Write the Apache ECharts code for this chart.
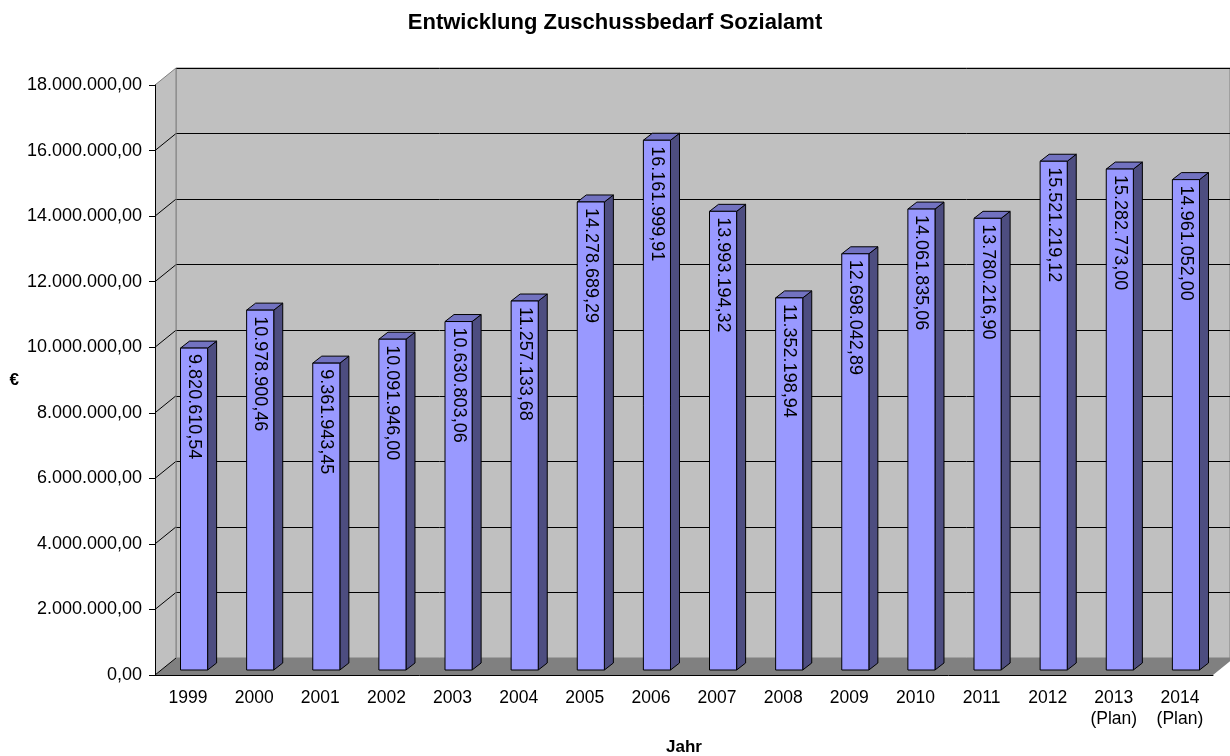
<!DOCTYPE html>
<html>
<head>
<meta charset="utf-8">
<script src="https://cdn.jsdelivr.net/npm/echarts@6/dist/echarts.min.js"></script>
<style>
  html, body { margin: 0; padding: 0; background: #fff; }
  #chart { width: 1230px; height: 756px; }
</style>
</head>
<body>
<div id="chart"></div>
<script>
// data
const years = ['1999', '2000', '2001', '2002', '2003', '2004', '2005', '2006',
  '2007', '2008', '2009', '2010', '2011', '2012', '2013\n(Plan)', '2014\n(Plan)']
const amounts = [9820610.54, 10978900.46, 9361943.45, 10091946.00, 10630803.06, 11257133.68,
  14278689.29, 16161999.91, 13993194.32, 11352198.94, 12698042.89, 14061835.06,
  13780216.90, 15521219.12, 15282773.00, 14961052.00]
const yTicks = [0, 2000000, 4000000, 6000000, 8000000, 10000000, 12000000, 14000000, 16000000, 18000000]

const FONT = '"Liberation Sans", Arial, sans-serif'
// 3D depth offset (back wall vs. front plane)
const DEPTH_X = 21
const DEPTH_Y = -17

// German number format: 1.234.567,89
const fmt = (v) => {
  const [i, d] = v.toFixed(2).split('.')
  return i.replace(/\B(?=(\d{3})+(?!\d))/g, '.') + ',' + d
}

const chart = echarts.init(document.getElementById('chart'))

// left wall + floor + diagonal tick lines
const renderFrame = (params, api) => {
  const band = api.size([1, 0])[0]
  const n = years.length
  const top = api.coord([0, yTicks[yTicks.length - 1]])
  const bot = api.coord([0, 0])
  const xl = top[0] - band / 2
  const xr = api.coord([n - 1, 0])[0] + band / 2
  const children = [
    {
      type: 'polygon',
      shape: { points: [[xl, top[1]], [xl + DEPTH_X, top[1] + DEPTH_Y], [xl + DEPTH_X, bot[1] + DEPTH_Y], [xl, bot[1]]] },
      style: { fill: '#c0c0c0' },
    },
    {
      type: 'polygon',
      shape: { points: [[xl, bot[1]], [xl + DEPTH_X, bot[1] + DEPTH_Y], [xr + DEPTH_X, bot[1] + DEPTH_Y], [xr, bot[1]]] },
      style: { fill: '#808080' },
    },
  ]
  yTicks.forEach((t, k) => {
    const y = api.coord([0, t])[1]
    children.push({
      type: 'line',
      shape: { x1: xl, y1: y, x2: xl + DEPTH_X, y2: y + DEPTH_Y },
      style: { stroke: k === yTicks.length - 1 ? '#808080' : '#000', lineWidth: 1 },
    })
  })
  children.push({
    type: 'line',
    shape: { x1: xl + DEPTH_X, y1: top[1] + DEPTH_Y, x2: xl + DEPTH_X, y2: bot[1] + DEPTH_Y },
    style: { stroke: '#808080', lineWidth: 1 },
  })
  return { type: 'group', children }
}

// 3D-looking bar: front, side, top + rotated value label
const renderBar = (params, api) => {
  const idx = api.value(0)
  const val = api.value(1)
  const p = api.coord([idx, val])
  const p0 = api.coord([idx, 0])
  const half = api.size([1, 0])[0] * 0.205
  const f1x = 6, f1y = -5 // front face depth
  const f2x = 15, f2y = -12 // back face depth
  const xl = p[0] - half + f1x
  const xr = p[0] + half + f1x
  const yt = p[1] + f1y
  const yb = p0[1] + f1y
  const dx = f2x - f1x
  const dy = f2y - f1y
  const stroke = { stroke: '#000', lineWidth: 1 }
  return {
    type: 'group',
    children: [
      {
        type: 'polygon',
        shape: { points: [[xr, yt], [xr + dx, yt + dy], [xr + dx, yb + dy], [xr, yb]] },
        style: Object.assign({ fill: '#4d4d80' }, stroke),
      },
      {
        type: 'polygon',
        shape: { points: [[xl, yt], [xl + dx, yt + dy], [xr + dx, yt + dy], [xr, yt]] },
        style: Object.assign({ fill: '#7272c0' }, stroke),
      },
      {
        type: 'rect',
        shape: { x: xl, y: yt, width: xr - xl, height: yb - yt },
        style: Object.assign({ fill: '#9999ff' }, stroke),
      },
      {
        type: 'text',
        x: (xl + xr) / 2,
        y: yt + 6,
        rotation: -Math.PI / 2,
        style: {
          text: fmt(val),
          font: '18px ' + FONT,
          fill: '#000',
          align: 'left',
          verticalAlign: 'middle',
        },
      },
    ],
  }
}

chart.setOption({
  animation: false,
  backgroundColor: '#fff',
  title: {
    text: 'Entwicklung Zuschussbedarf Sozialamt',
    left: 'center',
    top: 7,
    textStyle: { fontFamily: FONT, fontSize: 22, fontWeight: 'bold', color: '#000' },
  },
  grid: [
    // front plane (axes)
    { left: 155, right: 17, top: 85, bottom: 81, outerBoundsMode: 'none' },
    // back wall
    { left: 176, right: 0, top: 68, bottom: 98, outerBoundsMode: 'none', show: true, backgroundColor: '#c0c0c0', borderColor: '#808080', borderWidth: 1 },
  ],
  xAxis: [
    {
      type: 'category',
      gridIndex: 0,
      data: years,
      z: 10,
      name: 'Jahr',
      nameLocation: 'middle',
      nameGap: 64,
      nameTextStyle: { fontFamily: FONT, fontSize: 17, fontWeight: 'bold', color: '#000' },
      axisLine: { lineStyle: { color: '#000', width: 1 } },
      axisTick: { length: 8, lineStyle: { color: '#000' } },
      axisLabel: { fontFamily: FONT, fontSize: 17.5, color: '#000', margin: 13, lineHeight: 21, interval: 0 },
      splitLine: { show: false },
    },
    { type: 'category', gridIndex: 1, data: years, show: false },
  ],
  yAxis: [
    {
      type: 'value',
      gridIndex: 0,
      min: 0,
      max: 18000000,
      interval: 2000000,
      z: 10,
      name: '€',
      nameLocation: 'middle',
      nameRotate: 0,
      nameGap: 136,
      nameTextStyle: { fontFamily: FONT, fontSize: 17, fontWeight: 'bold', color: '#000', verticalAlign: 'middle' },
      axisLine: { show: true, lineStyle: { color: '#000', width: 1 } },
      axisTick: { show: true, length: 6, lineStyle: { color: '#000' } },
      axisLabel: { fontFamily: FONT, fontSize: 18, color: '#000', margin: 13, formatter: (v) => fmt(v) },
      splitLine: { show: false },
    },
    {
      type: 'value',
      gridIndex: 1,
      min: 0,
      max: 18000000,
      interval: 2000000,
      axisLine: { show: false },
      axisTick: { show: false },
      axisLabel: { show: false },
      splitLine: { show: true, lineStyle: { color: '#000', width: 1 } },
    },
  ],
  series: [
    {
      type: 'custom',
      name: 'frame',
      xAxisIndex: 0,
      yAxisIndex: 0,
      z: 1,
      silent: true,
      renderItem: renderFrame,
      data: [[0, 0]],
    },
    {
      type: 'custom',
      name: 'Zuschussbedarf',
      xAxisIndex: 0,
      yAxisIndex: 0,
      z: 3,
      renderItem: renderBar,
      encode: { x: 0, y: 1 },
      data: amounts.map((v, i) => [i, v]),
    },
  ],
})
</script>
</body>
</html>
